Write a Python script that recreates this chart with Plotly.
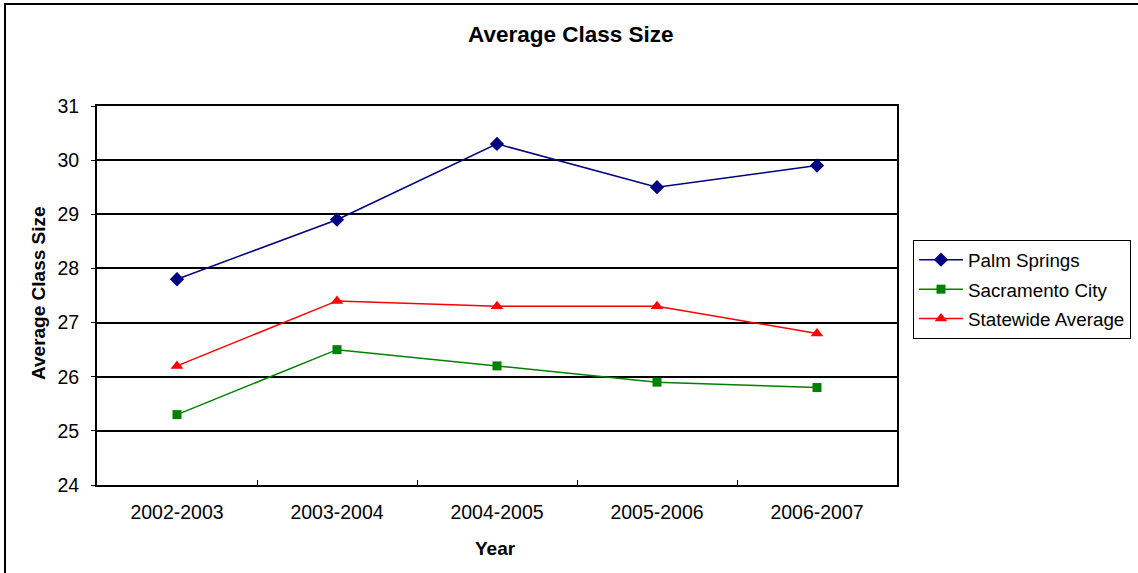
import plotly.graph_objects as go

years = ["2002-2003", "2003-2004", "2004-2005", "2005-2006", "2006-2007"]
palm_springs = [27.8, 28.9, 30.3, 29.5, 29.9]
sacramento_city = [25.3, 26.5, 26.2, 25.9, 25.8]
statewide_average = [26.2, 27.4, 27.3, 27.3, 26.8]
y_ticks = [24, 25, 26, 27, 28, 29, 30, 31]

FONT = "Liberation Sans, Arial, sans-serif"
W, H = 1138, 573
L, R, T, B = 97, 241, 106, 88
PW, PH = W - L - R, H - T - B


def px_x(x):
    return (x - L) / PW


def px_y(y):
    return (H - B - y) / PH


series = [
    ("Palm Springs", palm_springs, "#000080", "diamond", 11),
    ("Sacramento City", sacramento_city, "#008000", "square", 9),
    ("Statewide Average", statewide_average, "#FF0000", "triangle-up", 11),
]

fig = go.Figure()
for i, (name, vals, color, sym, size) in enumerate(series):
    fig.add_trace(go.Scatter(
        x=years, y=vals, name=name, mode="lines+markers",
        line=dict(color=color, width=1.5),
        marker=dict(symbol=sym, size=size, color=color, line=dict(width=0)),
        legendgroup=f"g{i}",
    ))

fig.update_layout(
    width=W, height=H,
    margin=dict(l=L, r=R, t=T, b=B, pad=0, autoexpand=False),
    paper_bgcolor="white", plot_bgcolor="white",
    font=dict(family=FONT, size=19.5, color="black"),
    showlegend=True,
    legend=dict(
        x=px_x(913), y=px_y(240), xanchor="left", yanchor="top",
        bordercolor="black", borderwidth=1, bgcolor="white",
        font=dict(family=FONT, size=18.8, color="black"),
        tracegroupgap=2, itemwidth=44,
    ),
    xaxis=dict(
        type="category", range=[-0.5, 4.5],
        showline=True, linecolor="black", linewidth=2, mirror=True,
        ticks="inside", tickson="boundaries", ticklen=5, tickcolor="black", tickwidth=1,
        showgrid=False, tickfont=dict(family=FONT, size=19.5),
        ticklabelstandoff=9,
    ),
    yaxis=dict(
        range=[24, 31], tickvals=y_ticks,
        showline=True, linecolor="black", linewidth=2, mirror=True,
        ticks="outside", ticklen=4, tickcolor="black", tickwidth=1,
        showgrid=True, gridcolor="black", gridwidth=1.5, zeroline=False,
        tickfont=dict(family=FONT, size=19.5),
        ticklabelstandoff=8,
    ),
    annotations=[
        dict(text="<b>Average Class Size</b>", x=px_x(571), y=px_y(35),
             xref="paper", yref="paper", showarrow=False,
             xanchor="center", yanchor="middle", font=dict(family=FONT, size=22.5)),
        dict(text="<b>Average Class Size</b>", x=px_x(38), y=px_y(293),
             xref="paper", yref="paper", showarrow=False, textangle=-90,
             xanchor="center", yanchor="middle", font=dict(family=FONT, size=19)),
        dict(text="<b>Year</b>", x=px_x(495), y=px_y(548),
             xref="paper", yref="paper", showarrow=False,
             xanchor="center", yanchor="middle", font=dict(family=FONT, size=19)),
    ],
    shapes=[
        dict(type="rect", xref="paper", yref="paper",
             x0=px_x(5), x1=px_x(1145), y0=px_y(580), y1=px_y(4),
             line=dict(color="black", width=2), fillcolor="rgba(0,0,0,0)", layer="below"),
    ],
)

fig.write_html("out.html")
